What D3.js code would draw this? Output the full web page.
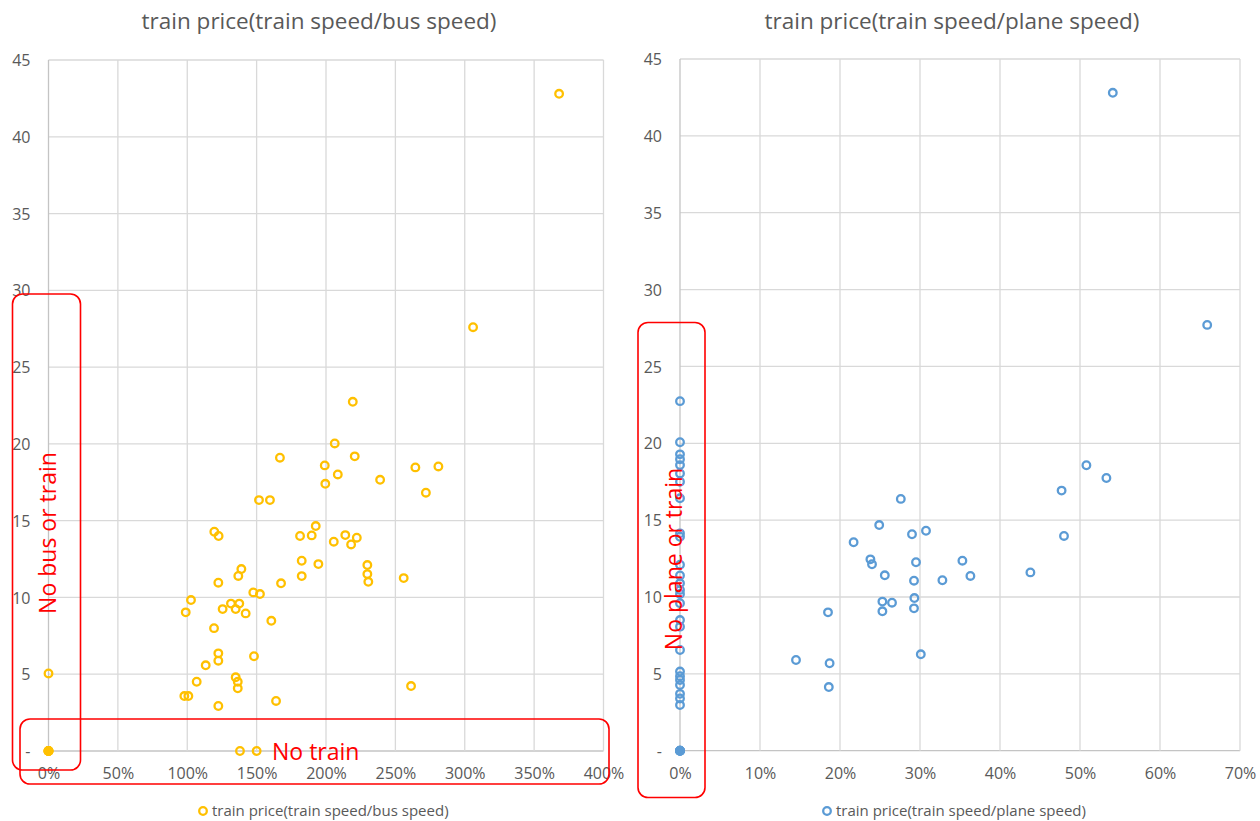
<!DOCTYPE html>
<html>
<head>
<meta charset="utf-8">
<script src="https://cdn.jsdelivr.net/npm/d3@7"></script>
<style>
  body { margin: 0; background: #fff; }
  svg text { font-family: "Open Sans", "Noto Sans", sans-serif; }
</style>
</head>
<body>
<div id="chart"></div>
<script>
// values
// left chart : train speed / bus speed (in %), train price
var busRatio = [0, 0, 0, 0, 0,
  138, 150, 166.8, 151.7, 159.6, 119.5, 122.6, 139, 136.8, 122.4, 167.6,
  147.6, 152.4, 102.7, 98.9, 125.5, 131.5, 134.9, 137.5, 142.1, 160.6, 119.3,
  122.4, 122.4, 113.3, 148.1, 106.8, 134.9, 136.4, 136.4, 97.9, 100.8, 122.4, 164,
  181.3, 189.7, 192.6, 182.5, 182.5, 194.5,
  219.3, 206.3, 220.7, 199.1, 208.5, 199.5, 239, 264.4, 281, 272,
  213.9, 222.2, 205.6, 218.1, 229.8, 229.8, 230.5, 256, 261.3, 306, 368];
var busPrice = [0, 0, 0, 0, 5.05,
  0, 0, 19.1, 16.34, 16.34, 14.28, 14.0, 11.85, 11.4, 10.96, 10.92,
  10.33, 10.22, 9.83, 9.03, 9.24, 9.6, 9.24, 9.6, 8.96, 8.48, 8.0,
  6.36, 5.88, 5.58, 6.17, 4.51, 4.8, 4.51, 4.08, 3.58, 3.58, 2.93, 3.26,
  14.0, 14.04, 14.65, 12.39, 11.39, 12.17,
  22.74, 20.03, 19.19, 18.6, 18.01, 17.4, 17.66, 18.47, 18.53, 16.82,
  14.06, 13.89, 13.63, 13.45, 12.11, 11.52, 11.02, 11.26, 4.23, 27.6, 42.8];

// right chart : train speed / plane speed (in %), train price
var planeRatio = [0, 0, 0, 0, 0, 0, 0, 0, 0, 0, 0, 0, 0, 0, 0, 0, 0, 0, 0, 0,
  0, 0, 0, 0, 0, 0, 0, 0, 0, 0,
  27.6, 24.9, 29.0, 30.75, 21.7, 23.8, 24.0, 29.5, 25.6, 29.25, 32.8,
  25.3, 26.5, 25.3, 29.3, 29.25, 30.1, 18.5, 14.5, 18.7, 18.6,
  35.3, 36.3, 43.8, 50.8, 53.3, 47.7, 48.0, 54.1, 65.9];
var planePrice = [22.74, 20.07, 19.28, 18.96, 18.58, 18.04, 17.5, 16.42, 14.14, 13.92,
  12.1, 11.4, 10.89, 10.46, 10.2, 9.6, 8.5, 8.07, 6.55, 5.15,
  4.85, 4.6, 4.27, 3.7, 3.4, 2.97, 0, 0, 0, 0,
  16.38, 14.68, 14.08, 14.31, 13.56, 12.45, 12.13, 12.26, 11.41, 11.06, 11.09,
  9.7, 9.63, 9.07, 9.93, 9.26, 6.27, 9.0, 5.9, 5.69, 4.14,
  12.36, 11.37, 11.6, 18.57, 17.74, 16.92, 13.97, 42.8, 27.7];

var priceTicks = [0, 5, 10, 15, 20, 25, 30, 35, 40, 45];
var busTicks = [0, 50, 100, 150, 200, 250, 300, 350, 400];
var planeTicks = [0, 10, 20, 30, 40, 50, 60, 70];

var titles = ["train price(train speed/bus speed)", "train price(train speed/plane speed)"];

var W = 1260, H = 821;
var svg = d3.select("#chart").append("svg")
  .attr("width", W).attr("height", H);

function drawScatter(opt) {
  var x = d3.scaleLinear().domain([opt.xTicks[0], opt.xTicks[opt.xTicks.length - 1]]).range(opt.xr);
  var y = d3.scaleLinear().domain([0, 45]).range(opt.yr);
  var g = svg.append("g");

  // gridlines
  g.append("g").selectAll("line.h").data(priceTicks).join("line")
    .attr("x1", opt.xr[0]).attr("x2", opt.xr[1])
    .attr("y1", d => y(d)).attr("y2", d => y(d))
    .attr("stroke", d => d === 0 ? "#c4c4c4" : "#d9d9d9").attr("stroke-width", 1.3);
  g.append("g").selectAll("line.v").data(opt.xTicks).join("line")
    .attr("x1", d => x(d)).attr("x2", d => x(d))
    .attr("y1", opt.yr[0]).attr("y2", opt.yr[1])
    .attr("stroke", d => d === 0 ? "#c4c4c4" : "#d9d9d9").attr("stroke-width", 1.3);

  // y axis labels
  var yAx = g.append("g").attr("transform", "translate(" + (opt.xr[0] - 18) + ",0)")
    .call(d3.axisLeft(y).tickValues(priceTicks).tickSize(0).tickPadding(0)
      .tickFormat(d => d === 0 ? "-" : d));
  yAx.select(".domain").remove();
  yAx.selectAll("text").attr("fill", "#595959").style("font-size", "16px")
    .attr("dy", "0.35em");

  // x axis labels
  var xAx = g.append("g").attr("transform", "translate(0," + (opt.yr[0] + 16.5) + ")")
    .call(d3.axisBottom(x).tickValues(opt.xTicks).tickSize(0).tickPadding(0)
      .tickFormat(d => d + "%"));
  xAx.select(".domain").remove();
  xAx.selectAll("text").attr("fill", "#595959").style("font-size", "16px");

  // title
  g.append("text").attr("x", opt.titleX).attr("y", 29)
    .attr("text-anchor", "middle").attr("fill", "#595959")
    .style("font-size", "22.5px").text(opt.title);

  // markers, identical points stacked many times read as a filled dot
  var pts = opt.xs.map((v, i) => ({ x: v, y: opt.ys[i] }));
  var count = d3.rollup(pts, v => v.length, d => d.x + ":" + d.y);
  g.append("g").selectAll("circle").data(pts).join("circle")
    .attr("cx", d => x(d.x)).attr("cy", d => y(d.y))
    .attr("r", 3.8)
    .attr("fill", d => count.get(d.x + ":" + d.y) > 2 ? opt.color : "none")
    .attr("stroke", opt.color).attr("stroke-width", 2.3);

  // legend
  var lg = g.append("g").attr("transform", "translate(" + opt.legendX + ",811)");
  lg.append("circle").attr("cx", 0).attr("cy", 0).attr("r", 3.8)
    .attr("fill", "none").attr("stroke", opt.color).attr("stroke-width", 2.3);
  lg.append("text").attr("x", 9).attr("y", 0).attr("dy", "0.35em")
    .attr("fill", "#595959").style("font-size", "15px").text(opt.title);

  return { x: x, y: y, g: g };
}

var left = drawScatter({
  xs: busRatio, ys: busPrice, xTicks: busTicks,
  xr: [48.5, 603.5], yr: [751, 60], color: "#FFC000",
  title: titles[0], titleX: 319, legendX: 203
});
var right = drawScatter({
  xs: planeRatio, ys: planePrice, xTicks: planeTicks,
  xr: [680, 1240], yr: [750.7, 59], color: "#5B9BD5",
  title: titles[1], titleX: 952, legendX: 827
});

// red call-outs
var red = "#FF0000";
var notes = svg.append("g");
notes.append("rect").attr("x", 12.5).attr("y", 294).attr("width", 68).attr("height", 476)
  .attr("rx", 10).attr("fill", "none").attr("stroke", red).attr("stroke-width", 1.6);
notes.append("rect").attr("x", 20).attr("y", 719).attr("width", 589).attr("height", 65)
  .attr("rx", 10).attr("fill", "none").attr("stroke", red).attr("stroke-width", 1.6);
notes.append("rect").attr("x", 638).attr("y", 322.5).attr("width", 67).attr("height", 475)
  .attr("rx", 10).attr("fill", "none").attr("stroke", red).attr("stroke-width", 1.6);

notes.append("text").attr("transform", "translate(56,533) rotate(-90)")
  .attr("text-anchor", "middle").attr("fill", red).style("font-size", "23px")
  .text("No bus or train");
notes.append("text").attr("x", 272).attr("y", 760)
  .attr("fill", red).style("font-size", "23px").text("No train");
notes.append("text").attr("transform", "translate(682,559) rotate(-90)")
  .attr("text-anchor", "middle").attr("fill", red).style("font-size", "23px")
  .text("No plane or train");
</script>
</body>
</html>
